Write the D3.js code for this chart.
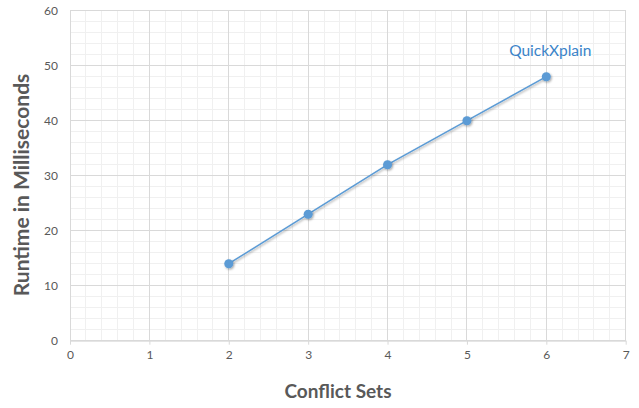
<!DOCTYPE html>
<html><head><meta charset="utf-8">
<script src="https://cdn.jsdelivr.net/npm/d3@7"></script>
<style>body{margin:0;background:#fff}svg{display:block}</style>
</head><body>
<svg id="c" width="639" height="408"></svg>
<script>
const conflictSets = [2, 3, 4, 5, 6];
const runtimeMs = [14, 23, 32, 40, 48];
const seriesName = "QuickXplain";
const xTicks = [0, 1, 2, 3, 4, 5, 6, 7];
const yTicks = [0, 10, 20, 30, 40, 50, 60];
const xTitle = "Conflict Sets";
const yTitle = "Runtime in Milliseconds";

const svg = d3.select("#c");
const font = "Lato, 'Open Sans', sans-serif";
const x = d3.scaleLinear().domain([0, 7]).range([70, 625.7]);
const y = d3.scaleLinear().domain([0, 60]).range([340.7, 10.7]);

const defs = svg.append("defs");
const f = defs.append("filter").attr("id","sh").attr("x","-50%").attr("y","-50%").attr("width","200%").attr("height","200%");
f.append("feDropShadow").attr("dx",1).attr("dy",1.2).attr("stdDeviation",1).attr("flood-color","#000").attr("flood-opacity",0.35);

// minor grid
const xMinor = d3.range(0, 7.0001, 0.2);
const yMinor = d3.range(0, 60.0001, 2);
svg.append("g").selectAll("line").data(xMinor).join("line")
  .attr("x1", d=>x(d)).attr("x2", d=>x(d)).attr("y1", y(60)).attr("y2", y(0))
  .attr("stroke", "#f0f0f0").attr("stroke-width", 1).attr("shape-rendering","crispEdges");
svg.append("g").selectAll("line").data(yMinor).join("line")
  .attr("x1", x(0)).attr("x2", x(7)).attr("y1", d=>y(d)).attr("y2", d=>y(d))
  .attr("stroke", "#f0f0f0").attr("stroke-width", 1).attr("shape-rendering","crispEdges");
// major grid
svg.append("g").selectAll("line").data(xTicks).join("line")
  .attr("x1", d=>x(d)).attr("x2", d=>x(d)).attr("y1", y(60)).attr("y2", y(0))
  .attr("stroke", "#d9d9d9").attr("stroke-width", 1).attr("shape-rendering","crispEdges");
svg.append("g").selectAll("line").data(yTicks).join("line")
  .attr("x1", x(0)).attr("x2", x(7)).attr("y1", d=>y(d)).attr("y2", d=>y(d))
  .attr("stroke", "#d9d9d9").attr("stroke-width", 1).attr("shape-rendering","crispEdges");

// x axis
const xa = svg.append("g").attr("transform", `translate(0,${y(0)})`)
  .call(d3.axisBottom(x).tickValues(xTicks).tickFormat(d3.format("d")).tickSize(4).tickSizeOuter(0));
xa.select(".domain").attr("stroke", "#d9d9d9");
xa.selectAll(".tick line").attr("stroke", "#d9d9d9");
xa.selectAll("text").attr("fill", "#595959").attr("font-family", font).attr("font-size", 12).attr("dy", "0.95em");

// y axis
const ya = svg.append("g").attr("transform", `translate(${x(0)},0)`)
  .call(d3.axisLeft(y).tickValues(yTicks).tickFormat(d3.format("d")).tickSize(0).tickPadding(12));
ya.select(".domain").attr("stroke", "#d9d9d9");
ya.selectAll("text").attr("fill", "#595959").attr("font-family", font).attr("font-size", 12);

// line
const pts = conflictSets.map((c,i)=>[c, runtimeMs[i]]);
svg.append("path").datum(pts)
  .attr("d", d3.line().x(d=>x(d[0])).y(d=>y(d[1])))
  .attr("fill","none").attr("stroke","#5b9bd5").attr("stroke-width",1.5).attr("filter","url(#sh)");
svg.append("g").selectAll("circle").data(pts).join("circle")
  .attr("cx", d=>x(d[0])).attr("cy", d=>y(d[1])).attr("r", 4.5)
  .attr("fill","#5b9bd5").attr("filter","url(#sh)");

// series label
const last = pts[pts.length-1];
svg.append("text").attr("x", x(last[0]) + 4).attr("y", y(last[1]) - 21)
  .attr("text-anchor","middle").attr("fill","#3b84c9")
  .attr("font-family", font).attr("font-size", 15.5).text(seriesName);

// titles
svg.append("text").attr("x", 338).attr("y", 398)
  .attr("text-anchor","middle").attr("fill","#595959").attr("font-weight","bold")
  .attr("font-family", font).attr("font-size", 19).text(xTitle);
svg.append("text").attr("transform", `translate(29,185) rotate(-90)`)
  .attr("text-anchor","middle").attr("fill","#595959").attr("font-weight","bold")
  .attr("font-family", font).attr("font-size", 21).text(yTitle);
</script>
</body></html>
